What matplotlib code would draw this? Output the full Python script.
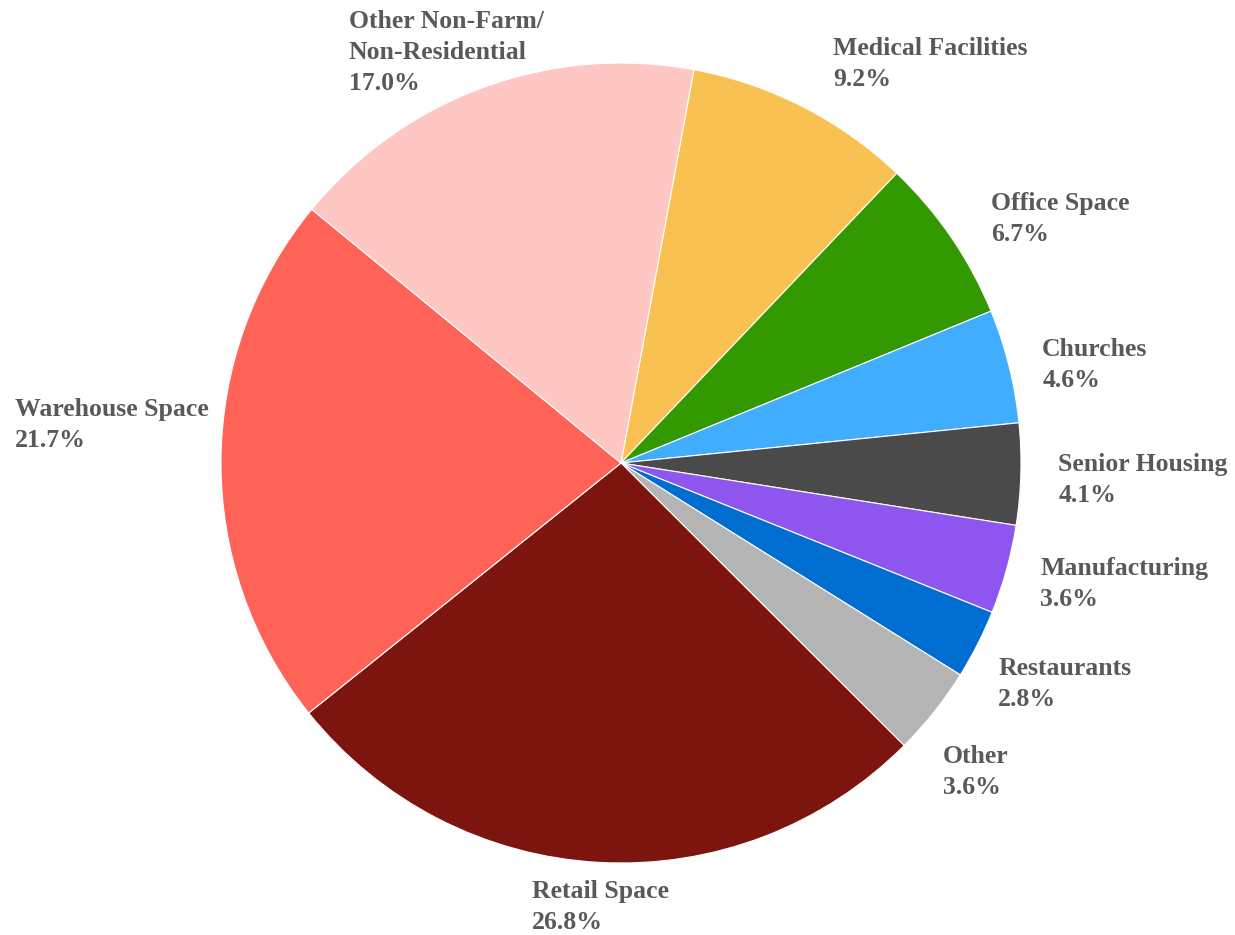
import matplotlib
matplotlib.use("Agg")
import matplotlib.pyplot as plt

# share of construction value by building type, clockwise from Medical Facilities
categories = [
    "Medical Facilities",
    "Office Space",
    "Churches",
    "Senior Housing",
    "Manufacturing",
    "Restaurants",
    "Other",
    "Retail Space",
    "Warehouse Space",
    "Other Non-Farm/\nNon-Residential",
]
shares = [9.2, 6.7, 4.6, 4.1, 3.6, 2.8, 3.6, 26.8, 21.7, 17.0]

colors = [
    "#F9C152",
    "#339900",
    "#40ADFF",
    "#4A4A4A",
    "#8E56EE",
    "#006DD0",
    "#B4B4B4",
    "#7D150F",
    "#FF6357",
    "#FFC7C4",
]

# top-left corner of each label, in pie-radius units
label_pos = [
    (0.530, 1.065),
    (0.925, 0.678),
    (1.053, 0.313),
    (1.093, 0.025),
    (1.048, -0.235),
    (0.943, -0.485),
    (0.805, -0.705),
    (-0.223, -1.043),
    (-1.515, 0.163),
    (-0.680, 1.133),
]

W, H = 1235, 935
R = 400.0
cx, cy = 621, 463

fig = plt.figure(figsize=(W / 100, H / 100), dpi=100)
ax = fig.add_axes([0, 0, 1, 1])

ax.pie(
    shares,
    colors=colors,
    startangle=79.5,
    counterclock=False,
    radius=1.0,
    center=(0, 0),
    normalize=True,
    wedgeprops=dict(edgecolor="white", linewidth=0.8),
    frame=False,
)
ax.set_xlim(-cx / R, (W - cx) / R)
ax.set_ylim(-(H - cy) / R, cy / R)
ax.set_aspect("equal")
ax.axis("off")

for name, val, (x, y) in zip(categories, shares, label_pos):
    ax.text(
        x, y, f"{name}\n{val:.1f}%",
        ha="left", va="top",
        fontsize=18.5, fontweight="bold",
        family="Liberation Serif", color="#595959",
        linespacing=1.45,
    )

fig.savefig("out.png", dpi=100)
